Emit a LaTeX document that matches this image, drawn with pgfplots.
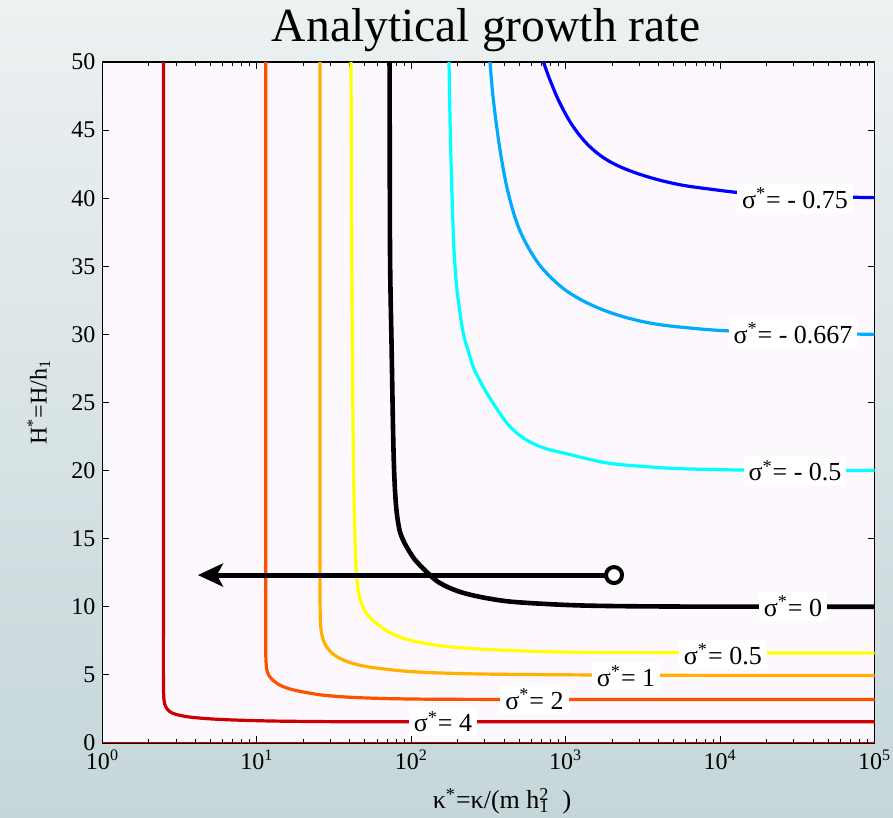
\documentclass[border=0pt]{standalone}
\usepackage{fontspec}
\setmainfont{Liberation Serif}
\usepackage{pgfplots}
\pgfplotsset{compat=1.18}
\usetikzlibrary{arrows.meta}

\definecolor{bgtop}{RGB}{237,241,242}
\definecolor{bgbot}{RGB}{197,214,217}
\definecolor{plotbg}{RGB}{253,248,253}
\definecolor{cfour}{RGB}{204,0,0}
\definecolor{ctwo}{RGB}{255,80,0}
\definecolor{cone}{RGB}{255,176,0}
\definecolor{chalf}{RGB}{255,255,0}
\definecolor{cmhalf}{RGB}{0,255,255}
\definecolor{cmtwo}{RGB}{0,170,255}
\definecolor{cmthree}{RGB}{0,0,255}

\begin{document}
\begin{tikzpicture}
% figure background
\shade[top color=bgtop,bottom color=bgbot] (0pt,0pt) rectangle (446.5pt,409pt);
\begin{axis}[
  at={(51.25pt,37.5pt)}, anchor=south west,
  scale only axis, width=386pt, height=340.5pt,
  xmode=log, xmin=1, xmax=1e5, ymin=0, ymax=50,
  axis background/.style={fill=plotbg},
  axis line style={line width=0.8pt},
  xtick={1,10,100,1000,10000,100000},
  xticklabels={10\textsuperscript{0},10\textsuperscript{1},10\textsuperscript{2},10\textsuperscript{3},10\textsuperscript{4},10\textsuperscript{5}},
  minor xtick={2,3,4,5,6,7,8,9,20,30,40,50,60,70,80,90,200,300,400,500,600,700,800,900,2000,3000,4000,5000,6000,7000,8000,9000,20000,30000,40000,50000,60000,70000,80000,90000},
  ytick={0,5,...,50},
  tick align=inside,
  major tick length=3.5pt, minor tick length=2pt,
  every tick/.style={black, line width=0.5pt},
  ticklabel style={font=\fontsize{12}{14}\selectfont},
  /pgf/number format/assume math mode=true,
  clip=true,
  contour/.style={line width=1.6pt, smooth, tension=0.5},
]
% trace along the lower edge
\addplot[cfour, line width=1pt] coordinates {(1,0) (1e5,0)};

% sigma* = 4
\addplot[cfour, contour] coordinates {
(2.48,50) (2.48,30) (2.48,16) (2.48,8.5) (2.48,5) (2.49,3.5) (2.53,2.85) (2.64,2.45) (2.85,2.18) (3.2,2.02) (3.7,1.9) (4.6,1.8) (6,1.72) (8.5,1.66) (13,1.61) (22,1.58) (40,1.56) (100,1.56) (1000,1.56) (10000,1.56) (100000,1.56)};
% sigma* = 2
\addplot[ctwo, contour] coordinates {
(11.4,50) (11.4,32) (11.4,19) (11.4,11.5) (11.4,8) (11.42,6.4) (11.55,5.5) (11.9,5.0) (12.6,4.65) (13.8,4.3) (15.5,4.05) (17.5,3.88) (21,3.7) (26,3.53) (33,3.42) (45,3.33) (70,3.26) (120,3.22) (300,3.2) (1000,3.2) (10000,3.2) (100000,3.2)};
% sigma* = 1
\addplot[cone, contour] coordinates {
(25.6,50) (25.6,33) (25.6,21) (25.6,14) (25.65,10.5) (25.8,8.8) (26.4,7.9) (27.5,7.3) (29.2,6.85) (31.8,6.45) (36.3,6.09) (43,5.8) (52,5.6) (65,5.45) (90,5.28) (139,5.16) (300,5.06) (1239,5.0) (10000,4.96) (100000,4.95)};
% sigma* = 0.5
\addplot[chalf, contour] coordinates {
(40.7,50) (41.2,35) (41.8,25) (42.4,19) (43.2,15) (44,12.6) (45.2,11.3) (47,10.45) (50,9.7) (54,9.2) (60,8.75) (68,8.3) (80,7.88) (98,7.55) (125,7.3) (170,7.08) (292,6.88) (600,6.74) (1239,6.66) (10000,6.62) (100000,6.6)};
% sigma* = 0
\addplot[black, contour, line width=2.3pt] coordinates {
(72.4,50) (72.8,36.2) (74.6,28.9) (76.5,22) (78.2,18.8) (80.5,16.9) (84,15.6) (88.5,14.9) (93.3,14.4) (104,13.55) (119.6,12.8) (146,11.9) (180,11.35) (228.6,10.95) (320,10.6) (482,10.34) (1239,10.1) (5000,10.02) (100000,10.0)};
% sigma* = -0.5
\addplot[cmhalf, contour, tension=0.6] coordinates {
(175.5,50) (178,46) (181,42.5) (185,39) (189,36.2) (195,34) (201.5,32.5) (217,30.1) (235,28.7) (252,27.6) (278,26.6) (308,25.7) (355,24.6) (415,23.5) (490,22.7) (587,22.1) (750,21.6) (965,21.3) (1400,20.85) (2032,20.5) (4285,20.2) (7410,20.1) (20000,20.02) (100000,20.0)};
% sigma* = -0.667
\addplot[cmtwo, contour, tension=0.6] coordinates {
(323.5,50) (336.5,47.7) (357.3,45.25) (385,42.8) (424.8,40.36) (493,37.91) (602.5,35.95) (754,34.49) (1066,33.02) (1752,31.79) (3182,30.93) (6076,30.49) (15000,30.2) (100000,30.0)};
% sigma* = -0.75
\addplot[cmthree, contour, tension=0.6] coordinates {
(718,50) (791,48.68) (918,46.97) (1119,45.25) (1435,43.78) (1936,42.68) (2883,41.83) (4739,41.14) (7784,40.73) (20000,40.25) (100000,40.04)};

% path in parameter space
\addplot[black, line width=2.5pt, -{Stealth[length=12.5pt,width=11.5pt,inset=3pt]}] coordinates {(2056,12.33) (4.15,12.33)};
\addplot[only marks, mark=*, mark size=4pt, mark options={fill=white, draw=black, line width=2pt}] coordinates {(2056,12.33)};

% contour labels
\begin{scope}[every node/.style={fill=white, inner xsep=2.5pt, inner ysep=2pt, font=\fontsize{13}{15}\selectfont}]
\node at (axis cs:30550,40.0) {σ\textsuperscript{*}= - 0.75};
\node at (axis cs:29650,30.1) {σ\textsuperscript{*}= - 0.667};
\node at (axis cs:30550,20.0) {σ\textsuperscript{*}= - 0.5};
\node at (axis cs:29650,10.05) {σ\textsuperscript{*}= 0};
\node at (axis cs:10420,6.5) {σ\textsuperscript{*}= 0.5};
\node at (axis cs:2460,4.9) {σ\textsuperscript{*}= 1};
\node at (axis cs:628,3.2) {σ\textsuperscript{*}= 2};
\node at (axis cs:160.4,1.56) {σ\textsuperscript{*}= 4};
\end{scope}
\end{axis}
% titles
\node[anchor=base, font=\fontsize{23.8}{27}\selectfont] at (243pt,388pt) {Analytical growth rate};
\node[anchor=base, font=\fontsize{13}{15}\selectfont] at (251pt,4.5pt) {κ\textsuperscript{*}=κ/(m h\rlap{\textsuperscript{2}}\textsubscript{1}\ \ )};
\node[anchor=base, rotate=90, font=\fontsize{12}{14}\selectfont] at (23.3pt,208pt) {H\textsuperscript{*}=H/h\textsubscript{1}};
\pgfresetboundingbox
\useasboundingbox (0pt,0pt) rectangle (446.5pt,409pt);
\end{tikzpicture}
\end{document}
